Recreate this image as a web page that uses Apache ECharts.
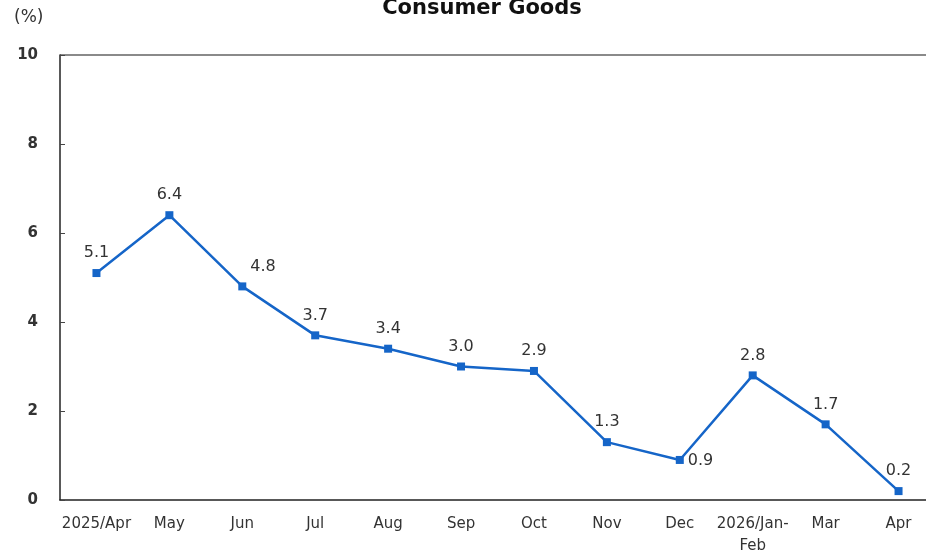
<!DOCTYPE html>
<html>
<head>
<meta charset="utf-8">
<script src="https://cdn.jsdelivr.net/npm/echarts@6/dist/echarts.min.js"></script>
<style>
  html, body { margin: 0; padding: 0; background: #fff; }
  #chart { width: 926px; height: 553px; }
</style>
</head>
<body>
<div id="chart"></div>
<script>
// Month labels along the x axis
const categories = ['2025/Apr', 'May', 'Jun', 'Jul', 'Aug', 'Sep', 'Oct', 'Nov', 'Dec', '2026/Jan-\nFeb', 'Mar', 'Apr'];
// Year-on-year change, percent
const values = [5.1, 6.4, 4.8, 3.7, 3.4, 3.0, 2.9, 1.3, 0.9, 2.8, 1.7, 0.2];
// Where each value label sits relative to its point
const labelPlacement = ['top', 'top', 'upperRight', 'top', 'top', 'top', 'top', 'top', 'right', 'top', 'top', 'top'];
const yTicks = [0, 2, 4, 6, 8, 10];

const FONT = '"DejaVu Sans", "Liberation Sans", Arial, sans-serif';

const seriesData = values.map((v, i) => {
  const pos = labelPlacement[i];
  if (pos === 'upperRight') {
    return { value: v, label: { position: [12, -24], align: 'left' } };
  }
  if (pos === 'right') {
    return { value: v, label: { position: 'right', distance: 4, offset: [0, 1] } };
  }
  return { value: v, label: { position: pos } };
});

const chart = echarts.init(document.getElementById('chart'));
chart.setOption({
  backgroundColor: '#ffffff',
  animation: false,
  title: {
    text: 'Consumer Goods',
    left: 477,
    textAlign: 'center',
    top: -7,
    textStyle: { fontFamily: FONT, fontSize: 21, fontWeight: 'bold', color: '#111' }
  },
  graphic: [{
    type: 'text',
    left: 14,
    top: 9,
    style: { text: '(%)', font: '17px ' + FONT, fill: '#333' }
  }, {
    // top frame edge of the plot area
    type: 'line',
    shape: { x1: 60, y1: 55, x2: 926, y2: 55 },
    style: { stroke: '#8a8a8a', lineWidth: 2 }
  }],
  // plot area runs slightly past the right edge of the canvas
  grid: { left: 60, width: 875, top: 55, bottom: 53, outerBoundsMode: 'none', containLabel: false },
  xAxis: {
    type: 'category',
    data: categories,
    boundaryGap: true,
    axisLine: { lineStyle: { color: '#222', width: 1.5 } },
    axisTick: { inside: true, length: 6, lineStyle: { color: '#444' } },
    axisLabel: {
      color: '#333',
      fontFamily: FONT,
      fontSize: 15,
      margin: 13,
      lineHeight: 22,
      interval: 0
    },
    splitLine: { show: false }
  },
  yAxis: {
    type: 'value',
    min: yTicks[0],
    max: yTicks[yTicks.length - 1],
    interval: 2,
    axisLine: { show: true, lineStyle: { color: '#222', width: 1.5 } },
    axisTick: { show: true, inside: true, length: 5, lineStyle: { color: '#444' } },
    axisLabel: {
      color: '#333',
      fontFamily: FONT,
      fontSize: 15,
      fontWeight: 'bold',
      margin: 22
    },
    splitLine: { show: false }
  },
  series: [{
    type: 'line',
    data: seriesData,
    symbol: 'rect',
    symbolSize: 8,
    lineStyle: { color: '#1565c8', width: 2.5 },
    itemStyle: { color: '#1565c8' },
    label: {
      show: true,
      color: '#333',
      fontFamily: FONT,
      fontSize: 16,
      distance: 8,
      formatter: p => p.value.toFixed(1)
    }
  }]
});
</script>
</body>
</html>
